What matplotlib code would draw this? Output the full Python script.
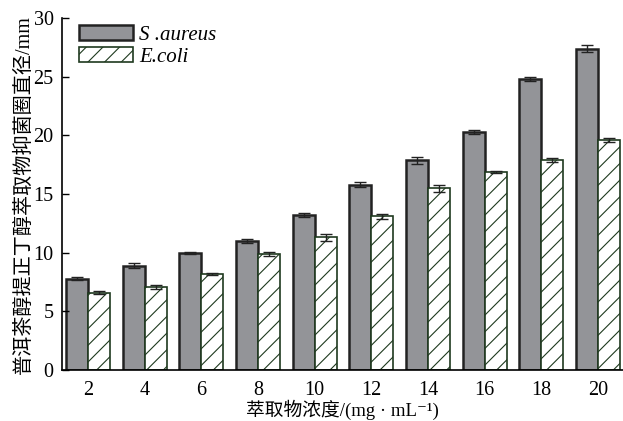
import numpy as np
import matplotlib
matplotlib.use('Agg')
import matplotlib.pyplot as plt

plt.rcParams['font.family'] = ['Liberation Serif', 'Noto Sans CJK SC', 'DejaVu Sans']
plt.rcParams['hatch.linewidth'] = 0.8
plt.rcParams['hatch.color'] = '#444444'

conc = [2, 4, 6, 8, 10, 12, 14, 16, 18, 20]
s_aureus = [7.8, 8.9, 10.0, 11.0, 13.2, 15.8, 17.9, 20.3, 24.8, 27.4]
s_aureus_err = [0.1, 0.2, 0.1, 0.15, 0.15, 0.2, 0.3, 0.2, 0.2, 0.3]
e_coli = [6.6, 7.1, 8.2, 9.9, 11.3, 13.1, 15.5, 16.9, 17.9, 19.6]
e_coli_err = [0.1, 0.15, 0.1, 0.2, 0.3, 0.2, 0.3, 0.1, 0.2, 0.2]

x = np.array(conc, dtype=float)
w = 0.78

fig = plt.figure(figsize=(6.23, 4.21), dpi=100)
ax = fig.add_axes([0.0995, 0.121, 0.9005, 0.836])

ax.bar(x - w / 2, s_aureus, w, color='#939498', edgecolor='#222222',
       linewidth=1.8, label='S .aureus',
       yerr=s_aureus_err, capsize=4, error_kw=dict(ecolor='#222222', elinewidth=1, capthick=1))
ax.bar(x + w / 2, e_coli, w, color='white', edgecolor='#1f3a1f',
       linewidth=1.2, hatch='//', label='E.coli',
       yerr=e_coli_err, capsize=4, error_kw=dict(ecolor='#222222', elinewidth=1, capthick=1))

ax.set_xlim(1.083, 20.88)
ax.set_ylim(0, 30)
ax.set_xticks(conc)
ax.set_yticks([0, 5, 10, 15, 20, 25, 30])
ax.tick_params(axis='y', direction='in', length=5, width=1, labelsize=14.5, pad=6)
ax.tick_params(axis='x', length=0, labelsize=14.5, pad=8)
ax.spines['top'].set_visible(False)
ax.spines['right'].set_visible(False)
ax.spines['left'].set_linewidth(1.2)
ax.spines['bottom'].set_linewidth(1.2)

ax.set_ylabel('普洱茶醇提正丁醇萃取物抑菌圈直径/mm', fontsize=14.5, labelpad=0)
ax.set_xlabel('萃取物浓度/(mg · mL⁻¹)', fontsize=13.5, labelpad=0)

leg = ax.legend(loc='upper left', bbox_to_anchor=(-0.003, 1.033), frameon=False,
                handlelength=2.6, handleheight=0.75,
                prop={'style': 'italic', 'size': 15}, labelspacing=0.1,
                handletextpad=0.3)

fig.savefig('out.png', dpi=100)
